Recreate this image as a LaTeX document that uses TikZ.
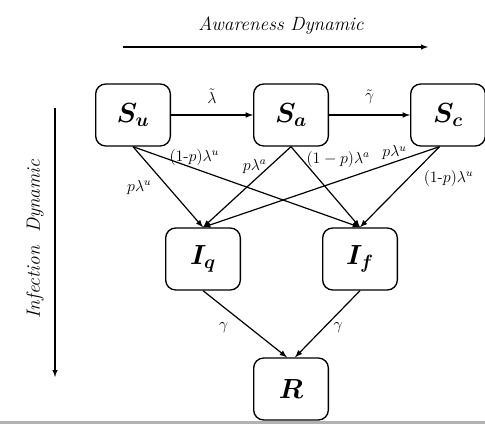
\documentclass[tikz,border=0pt]{standalone}
\usepackage{amsmath}
\usepackage{bm}
\usetikzlibrary{positioning}

\tikzset{
  compartment/.style={draw,line width=1pt,rounded corners=7.5pt,
    minimum width=56pt,minimum height=46.5pt,inner sep=0pt,font=\huge},
  flow/.style={-latex,line width=0.9pt},
  rate/.style={inner sep=1pt,font=\large},
}

\begin{document}
\begin{tikzpicture}[x=0.75pt,y=-0.75pt,node distance=0,on grid=false]
				    \useasboundingbox (0,0) rectangle (485,424);
				    \fill[gray!60] (0,421) rectangle (485,424);
				    % Place nodes
				    \node [compartment] (su) at (133,115) {$\bm{S_u}$};
				    \node [compartment,right=61.5pt of su] (sa) {$\bm{S_a}$};
				    \node [compartment,right=60.75pt of sa] (sc) {$\bm{S_c}$};
				    \node [compartment] (iq) at (203,259) {$\bm{I_q}$};
				    \node [compartment,right=60.75pt of iq] (If) {$\bm{I_f}$};
				    \node [compartment] (r) at (291,389) {$\bm{R}$};
				    % Dynamics
				    \coordinate (aw0) at (123,47);
				    \coordinate (aw1) at (428,47);
				    \coordinate (in0) at (55,108);
				    \coordinate (in1) at (55,377);
				    \draw[-latex,line width=0.8pt] (aw0) -- (aw1);
				    \draw[-latex,line width=0.8pt] (in0) -- (in1);
				    \node [font=\Large\itshape] (awtext) at (281,26) {Awareness Dynamic};
				    \node [font=\Large\itshape,rotate=90] (intext) at (35,239) {Infection\ \ Dynamic};
				    % Flows
				    \draw[flow] (su) -- node[rate,above=7pt] {$\tilde{\lambda}$} (sa);
				    \draw[flow] (sa) -- node[rate,above=7pt] {$\tilde{\gamma}$} (sc);
				    \draw[flow] (su.south) -- node[rate,pos=0.5,left=11pt] {$p\lambda^u$} (iq.north);
				    \draw[flow] (su.south) -- node[rate,pos=0.27,above=1pt] {(1-$p$)$\lambda^u$} (If.north);
				    \draw[flow] (sa.south) -- node[rate,pos=0.24,left=1pt] {$p\lambda^a$} (iq.north);
				    \draw[flow] (sa.south) -- node[rate,pos=0.16,right=2pt] {$(1-p)\lambda^a$} (If.north);
				    \draw[flow] (sc.-105) -- node[rate,pos=0.19,above=0pt] {$p\lambda^u$} (iq.north);
				    \draw[flow] (sc.-105) -- node[rate,pos=0.39,right=10pt] {(1-$p$)$\lambda^u$} (If.north);
				    \draw[flow] (iq.south) -- node[rate,pos=0.56,left=15pt] {$\gamma$} ([xshift=-3pt]r.north);
				    \draw[flow] (If.south) -- node[rate,pos=0.56,right=6pt] {$\gamma$} ([xshift=3pt]r.north);
				\end{tikzpicture}
\end{document}
